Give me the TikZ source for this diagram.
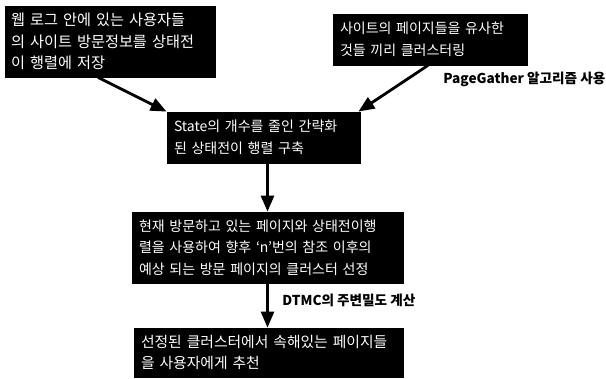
\documentclass[tikz,border=0pt]{standalone}
\usepackage{fontspec}
\setmainfont{Noto Sans CJK KR}
\usetikzlibrary{arrows.meta}

\tikzset{
    stepbox/.style={rectangle,fill=black,draw=black,text=white,align=left,
        inner xsep=3.5pt,inner ysep=0pt,font=\fontsize{7}{10.8}\selectfont},
    note/.style={anchor=west,inner sep=0pt,font=\fontsize{6.8}{8}\selectfont\bfseries},
    arr/.style={-{Triangle[length=8pt,width=6.5pt]},line width=1.4pt},
}

\begin{document}
\begin{tikzpicture}[x=0.5pt,y=-0.5pt]
    \useasboundingbox (0,0) rectangle (606,379);
    \node at (110,41.5) [stepbox,text width=99pt,inner xsep=3pt,minimum height=35.5pt,font=\fontsize{7.6}{10.8}\selectfont] (log) {웹 로그 안에 있는 사용자들\\의 사이트 방문정보를 상태전\\이 행렬에 저장};
    \node at (430,39.5) [stepbox,text width=90pt,minimum height=25.5pt] (clus) {사이트의 페이지들을 유사한\\것들 끼리 클러스터링};
    \node at (263.5,137.5) [stepbox,text width=89.5pt,minimum height=25.5pt] (mat) {State의 개수를 줄인 간략화\\된 상태전이 행렬 구축};
    \node at (267.5,247.5) [stepbox,text width=128.5pt,minimum height=35.5pt] (sel) {현재 방문하고 있는 페이지와 상태전이행\\렬을 사용하여 향후 `n'번의 참조 이후의\\예상 되는 방문 페이지의 클러스터 선정};
    \node at (268.5,352.5) [stepbox,text width=127.5pt,minimum height=24.5pt,font=\fontsize{7.4}{10.8}\selectfont] (rec) {선정된 클러스터에서 속해있는 페이지들\\을 사용자에게 추천};

    \node at (443,79) [note] (pg) {PageGather 알고리즘 사용};
    \node at (282,300) [note] (dtmc) {DTMC의 주변밀도 계산};

    \draw[arr] ([xshift=-6pt]log.south) -- (mat.north west);
    \draw[arr] ([xshift=-1pt]clus.south) -- ([xshift=-1pt]mat.north east);
    \draw[arr] (mat.south -| sel.north) -- (sel.north);
    \draw[arr] (sel.south) -- (sel.south |- rec.north);
\end{tikzpicture}
\end{document}
